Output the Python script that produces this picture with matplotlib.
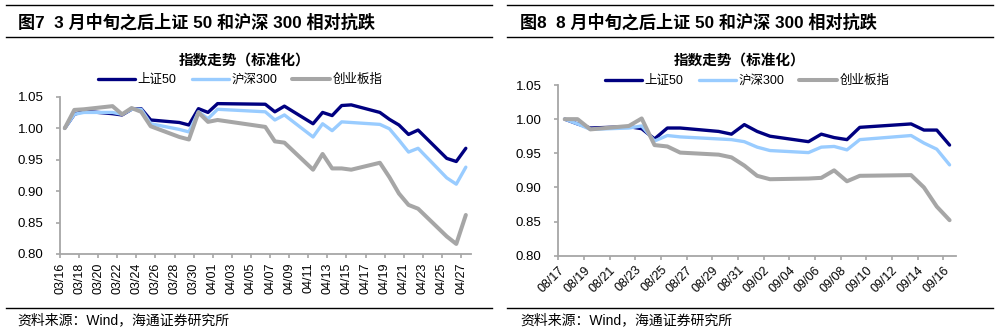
import matplotlib
matplotlib.use("Agg")
from matplotlib import pyplot as plt
import pandas as pd

plt.rcParams['font.family'] = ['Liberation Sans', 'Noto Sans CJK SC']
plt.rcParams['axes.unicode_minus'] = False

W, H = 997, 336

# ---- left chart: 2022-03-16 .. 2022-04-27 (trading days) ----
dates_l = ['03/16', '03/17', '03/18', '03/21', '03/22', '03/23', '03/24', '03/25',
           '03/28', '03/29', '03/30', '03/31', '04/01', '04/06', '04/07', '04/08',
           '04/11', '04/12', '04/13', '04/14', '04/15', '04/18', '04/19', '04/20',
           '04/21', '04/22', '04/25', '04/26', '04/27']
sz50_l = [1.000, 1.022, 1.027, 1.023, 1.021, 1.030, 1.031, 1.013,
          1.009, 1.005, 1.031, 1.025, 1.039, 1.038, 1.026, 1.035,
          1.007, 1.025, 1.020, 1.036, 1.037, 1.025, 1.014, 1.005,
          0.990, 0.997, 0.952, 0.947, 0.968]
hs300_l = [1.000, 1.022, 1.025, 1.025, 1.022, 1.030, 1.030, 1.007,
           0.998, 0.994, 1.026, 1.015, 1.030, 1.026, 1.013, 1.021,
           0.986, 1.007, 0.996, 1.010, 1.009, 1.006, 0.999, 0.981,
           0.962, 0.968, 0.921, 0.911, 0.938]
cyb_l = [1.000, 1.029, 1.030, 1.035, 1.022, 1.032, 1.026, 1.003,
         0.986, 0.982, 1.025, 1.010, 1.013, 1.002, 0.979, 0.977,
         0.934, 0.959, 0.936, 0.936, 0.934, 0.945, 0.922, 0.896,
         0.878, 0.872, 0.828, 0.816, 0.862]

# ---- right chart: 2022-08-17 .. 2022-09-16 ----
dates_r = ['08/17', '08/18', '08/19', '08/22', '08/23', '08/24', '08/25', '08/26',
           '08/29', '08/30', '08/31', '09/01', '09/02', '09/05', '09/06', '09/07',
           '09/08', '09/09', '09/13', '09/14', '09/15', '09/16']
sz50_r = [1.000, 0.993, 0.987, 0.989, 0.986, 0.971, 0.987, 0.987,
          0.982, 0.978, 0.992, 0.982, 0.975, 0.967, 0.978, 0.973,
          0.970, 0.988, 0.993, 0.984, 0.984, 0.962]
hs300_r = [1.000, 0.993, 0.985, 0.987, 0.990, 0.968, 0.976, 0.974,
           0.971, 0.970, 0.967, 0.959, 0.954, 0.951, 0.959, 0.960,
           0.955, 0.970, 0.976, 0.965, 0.956, 0.933]
cyb_r = [1.000, 1.000, 0.985, 0.990, 1.001, 0.962, 0.960, 0.951,
         0.948, 0.944, 0.932, 0.917, 0.912, 0.913, 0.914, 0.925,
         0.909, 0.917, 0.918, 0.900, 0.872, 0.852]

series_names = ['上证50', '沪深300', '创业板指']
colors = ['#000080', '#99CCFF', '#A6A6A6']
widths = [2.4, 2.4, 2.9]

fig = plt.figure(figsize=(W / 100, H / 100), dpi=100)


def px_rect(x0, y_top, x1, y_bot):
    return [x0 / W, 1 - y_bot / H, (x1 - x0) / W, (y_bot - y_top) / H]


def draw_panel(rect, dates, values, year, rot, legend_xy):
    ax = fig.add_axes(rect)
    d = pd.to_datetime([f'{year}-{s.replace("/", "-")}' for s in dates])
    start = d[0]
    days = (d - start).days.to_numpy()
    ndays = days[-1] + 1
    for vals, name, c, lw in zip(values, series_names, colors, widths):
        ax.plot(days + 0.5, vals, color=c, lw=lw, label=name,
                solid_joinstyle='round', solid_capstyle='round')
    ax.set_xlim(0, ndays)
    ax.set_ylim(0.80, 1.05)
    ax.set_yticks([0.80, 0.85, 0.90, 0.95, 1.00, 1.05])
    ax.set_yticklabels([f'{v:.2f}' for v in ax.get_yticks()])
    ticks = list(range(0, ndays, 2))
    ax.set_xticks(ticks)
    labels = pd.date_range(start, periods=len(ticks), freq='2D').strftime('%m/%d')
    if rot == 90:
        ax.set_xticklabels(labels, rotation=90, fontsize=9)
    else:
        ax.set_xticklabels(labels, rotation=45, ha='right',
                           rotation_mode='anchor', fontsize=9)
    for s in ['top', 'right']:
        ax.spines[s].set_visible(False)
    for s in ['left', 'bottom']:
        ax.spines[s].set_color('#A6A6A6')
        ax.spines[s].set_linewidth(1.3)
    ax.tick_params(axis='both', direction='out', color='#A6A6A6', width=1.2,
                   length=3, labelsize=9.5)
    ax.tick_params(axis='y', pad=9)
    ax.tick_params(axis='x', pad=3, labelsize=9)
    ax.legend(loc='center', bbox_to_anchor=(legend_xy[0] / W, 1 - legend_xy[1] / H),
              bbox_transform=fig.transFigure, ncol=3, frameon=False, fontsize=9,
              handlelength=3.0, handletextpad=0.2, columnspacing=1.2,
              borderpad=0, borderaxespad=0)
    return ax


draw_panel(px_rect(60, 96.7, 470.6, 254), dates_l, [sz50_l, hs300_l, cyb_l], 2022, 90, (240, 80))
draw_panel(px_rect(558.3, 85, 956, 255.7), dates_r, [sz50_r, hs300_r, cyb_r], 2022, 45, (747, 81))

# header / footer decorations
def hline(x0, x1, y):
    fig.add_artist(plt.Line2D([x0 / W, x1 / W], [1 - y / H, 1 - y / H],
                              color='black', lw=1.0))

for x0, x1 in [(6, 492), (507, 993)]:
    hline(x0, x1, 5)
    hline(x0, x1, 37)
    hline(x0, x1, 307.5)

fig.text(18 / W, 1 - 22 / H, '图7  3 月中旬之后上证 50 和沪深 300 相对抗跌',
         fontsize=12.3, fontweight='bold', va='center', ha='left')
fig.text(520 / W, 1 - 22 / H, '图8  8 月中旬之后上证 50 和沪深 300 相对抗跌',
         fontsize=12.3, fontweight='bold', va='center', ha='left')

fig.text(245 / W, 1 - 61 / H, '指数走势（标准化）', fontsize=10.5,
         fontweight='bold', va='center', ha='center')
fig.text(740 / W, 1 - 61 / H, '指数走势（标准化）', fontsize=10.5,
         fontweight='bold', va='center', ha='center')

fig.text(17 / W, 1 - 320 / H, '资料来源：Wind，海通证券研究所', fontsize=10,
         va='center', ha='left')
fig.text(520 / W, 1 - 320 / H, '资料来源：Wind，海通证券研究所', fontsize=10,
         va='center', ha='left')

fig.savefig('out.png', dpi=100)
